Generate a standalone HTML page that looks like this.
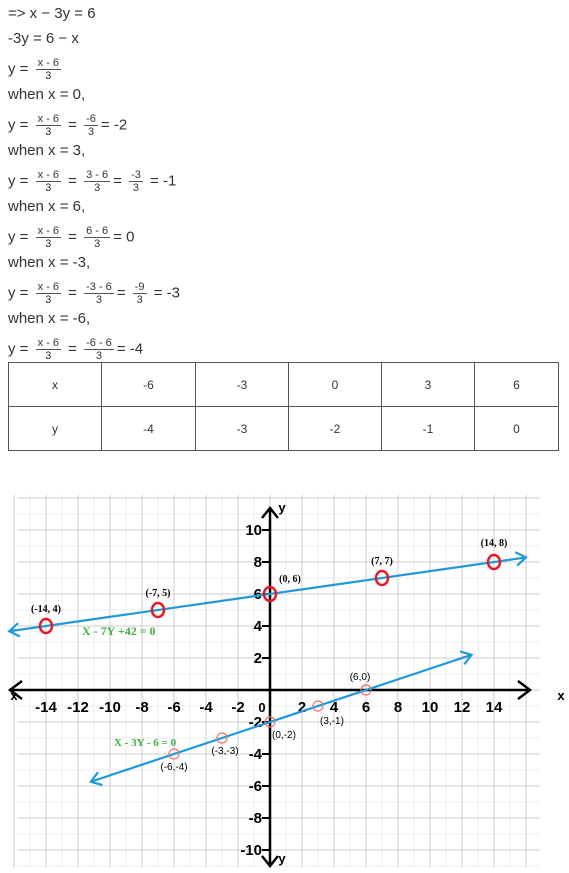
<!DOCTYPE html>
<html><head><meta charset="utf-8">
<style>
body{margin:0;width:569px;height:873px;background:#fff;position:relative;overflow:hidden;font-family:"Liberation Sans",sans-serif;color:#333}
.l{position:absolute;left:8px;font-size:15px;line-height:18px;white-space:nowrap}
.fr{display:inline-block;vertical-align:middle;text-align:center;font-size:11px;line-height:12px;margin:0 3px}
.fr .n{display:block;border-bottom:1px solid #555;padding:0 2px}
.fr .d{display:block}
table{position:absolute;left:8px;top:362px;width:550px;border-collapse:collapse;font-size:12px;color:#333;table-layout:fixed}
td{border:1px solid #555;height:43px;text-align:center;padding:0;vertical-align:middle}
</style></head><body>
<div class="l" style="top:5px">=&gt; x − 3y = 6</div>
<div class="l" style="top:30px">-3y = 6 − x</div>
<div class="l" style="top:57px">y = <span class="fr"><span class="n">x - 6</span><span class="d">3</span></span></div>
<div class="l" style="top:86px">when x = 0,</div>
<div class="l" style="top:113px">y = <span class="fr"><span class="n">x - 6</span><span class="d">3</span></span> = <span class="fr"><span class="n">-6</span><span class="d">3</span></span>= -2</div>
<div class="l" style="top:142px">when x = 3,</div>
<div class="l" style="top:169px">y = <span class="fr"><span class="n">x - 6</span><span class="d">3</span></span> = <span class="fr"><span class="n">3 - 6</span><span class="d">3</span></span>= <span class="fr"><span class="n">-3</span><span class="d">3</span></span> = -1</div>
<div class="l" style="top:198px">when x = 6,</div>
<div class="l" style="top:225px">y = <span class="fr"><span class="n">x - 6</span><span class="d">3</span></span> = <span class="fr"><span class="n">6 - 6</span><span class="d">3</span></span>= 0</div>
<div class="l" style="top:254px">when x = -3,</div>
<div class="l" style="top:281px">y = <span class="fr"><span class="n">x - 6</span><span class="d">3</span></span> = <span class="fr"><span class="n">-3 - 6</span><span class="d">3</span></span>= <span class="fr"><span class="n">-9</span><span class="d">3</span></span> = -3</div>
<div class="l" style="top:310px">when x = -6,</div>
<div class="l" style="top:337px">y = <span class="fr"><span class="n">x - 6</span><span class="d">3</span></span> = <span class="fr"><span class="n">-6 - 6</span><span class="d">3</span></span>= -4</div>
<table>
<colgroup><col style="width:93px"><col style="width:94px"><col style="width:93px"><col style="width:93px"><col style="width:93px"><col style="width:84px"></colgroup>
<tr><td>x</td><td>-6</td><td>-3</td><td>0</td><td>3</td><td>6</td></tr>
<tr><td>y</td><td>-4</td><td>-3</td><td>-2</td><td>-1</td><td>0</td></tr>
</table>
<svg id="chart" width="569" height="873" style="position:absolute;left:0;top:0"></svg>
<script>
const line1X=[-14,-7,0,7,14];
const line1Y=[4,5,6,7,8];
const line1Labels=["(-14, 4)","(-7, 5)","(0, 6)","(7, 7)","(14, 8)"];
const line2X=[-6,-3,0,3,6];
const line2Y=[-4,-3,-2,-1,0];
const line2Labels=["(-6,-4)","(-3,-3)","(0,-2)","(3,-1)","(6,0)"];
const xTicks=[-14,-12,-10,-8,-6,-4,-2,2,4,6,8,10,12,14];
const yTicks=[10,8,6,4,2,-2,-4,-6,-8,-10];
const NS="http://www.w3.org/2000/svg",svg=document.getElementById('chart');
const px=x=>270+x*16, py=y=>690-y*16;
function mk(t,a,txt){const e=document.createElementNS(NS,t);for(const k in a)e.setAttribute(k,a[k]);if(txt!==undefined)e.textContent=txt;svg.appendChild(e);return e;}
for(let v=-16;v<=16;v++){const e=mk('line',{x1:px(v),x2:px(v),y1:495,y2:868,stroke:v%2?'#eee':'#ccc','stroke-width':1});

}
for(let v=-11;v<=12;v++){const e=mk('line',{x1:18,x2:540,y1:py(v),y2:py(v),stroke:v%2?'#eee':'#ccc','stroke-width':1});

}
let a=mk('path',{d:`M10 690H530M22 681L10 690L22 699M518 681L530 690L518 699`,stroke:'#000','stroke-width':2.5,fill:'none'});


a=mk('path',{d:`M270 508V866M262 518L270 508L278 518M262 856L270 866L278 856`,stroke:'#000','stroke-width':2.5,fill:'none'});


[['x',14,700],['x',561,700],['y',282,512],['y',282,863],['0',262,712]].forEach(([t,x,y])=>{const e=mk('text',{x,y,'font-size':13,'font-weight':'bold','text-anchor':'middle','font-family':'Liberation Sans'},t);

});
xTicks.forEach(v=>{const e=mk('text',{x:px(v),y:712,'font-size':15,'font-weight':'bold','text-anchor':'middle','font-family':'Liberation Sans'},v);

});
yTicks.forEach(v=>{mk('line',{x1:px(0)-8,x2:px(0),y1:py(v),y2:py(v),stroke:'#000','stroke-width':2});
const e=mk('text',{x:px(0)-8,y:py(v)+5,'font-size':15,'font-weight':'bold','text-anchor':'end','font-family':'Liberation Sans'},v);

});
function line(xs,ys,x0,x1,name){const m=(ys[4]-ys[0])/(xs[4]-xs[0]),f=x=>ys[0]+m*(x-xs[0]);
const X0=px(x0),Y0=py(f(x0)),X1=px(x1),Y1=py(f(x1));const ang=Math.atan2(Y1-Y0,X1-X0),L=12,s=0.6;
const e=mk('path',{d:`M${X0} ${Y0}L${X1} ${Y1}M${X0+L*Math.cos(ang-s)} ${Y0+L*Math.sin(ang-s)}L${X0} ${Y0}L${X0+L*Math.cos(ang+s)} ${Y0+L*Math.sin(ang+s)}M${X1-L*Math.cos(ang-s)} ${Y1-L*Math.sin(ang-s)}L${X1} ${Y1}L${X1-L*Math.cos(ang+s)} ${Y1-L*Math.sin(ang+s)}`,stroke:'#1e9ad6','stroke-width':2.2,fill:'none'});

}
line(line1X,line1Y,-16.3,16.0,'line-x-7y-42');
line(line2X,line2Y,-11.2,12.6,'line-x-3y-6');
line1X.forEach((x,i)=>{const e=mk('ellipse',{cx:px(x),cy:py(line1Y[i]),rx:6,ry:7,stroke:'#e31b23','stroke-width':2.5,fill:'none'});


const off=[[0,-14],[0,-14],[20,-12],[0,-14],[0,-16]][i];
const t=mk('text',{x:px(x)+off[0],y:py(line1Y[i])+off[1],'font-size':10,'font-weight':'bold','text-anchor':'middle','font-family':'Liberation Serif'},line1Labels[i]);

});
line2X.forEach((x,i)=>{const e=mk('circle',{cx:px(x),cy:py(line2Y[i]),r:5,stroke:'#f07070','stroke-width':1.2,fill:'none'});


const off=[[0,16],[3,16],[14,16],[14,18],[-6,-10]][i];
const t=mk('text',{x:px(x)+off[0],y:py(line2Y[i])+off[1],'font-size':10,'text-anchor':'middle','font-family':'Liberation Sans'},line2Labels[i]);

});
let t=mk('text',{x:82,y:635,'font-size':12,fill:'#3cb043','font-family':'Liberation Serif','font-weight':'bold'},'X - 7Y +42  = 0');


t=mk('text',{x:114,y:746,'font-size':11,fill:'#3cb043','font-family':'Liberation Serif','font-weight':'bold'},'X - 3Y - 6 = 0');


</script>
</body></html>
